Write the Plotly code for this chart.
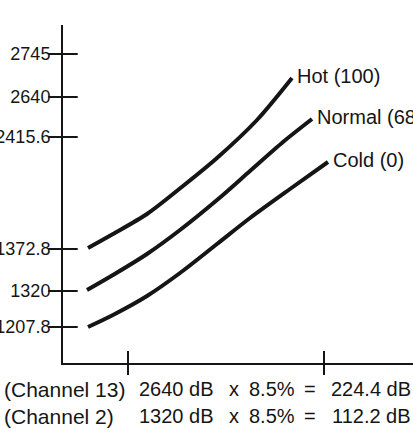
import plotly.graph_objects as go

# Schematic chart: x = horizontal distance along the axis, y = height above the axis
hot_x = [25, 50, 84, 120, 154, 194, 229]
hot_y = [115, 129, 149, 177, 205, 243, 285]

normal_x = [24, 50, 84, 117, 154, 187, 220, 249]
normal_y = [73, 88, 109, 133, 163, 192, 221, 244]

cold_x = [25, 50, 84, 117, 154, 187, 227, 265]
cold_y = [36, 48, 67, 90, 119, 145, 174, 201]

curve_labels = ["Hot (100)", "Normal (68)", "Cold (0)"]

y_tick_vals = [309, 266, 226, 114, 72, 36]
y_tick_text = ["2745", "2640", "2415.6", "1372.8", "1320", "1207.8"]

x_tick_vals = [65, 261]

channel_names = ["(Channel 13)", "(Channel 2)"]
channel_levels = ["2640 dB", "1320 dB"]
channel_percent = ["8.5%", "8.5%"]
channel_results = ["224.4 dB", "112.2 dB"]

INK = "#151515"
FONT = "Liberation Sans, Arial, sans-serif"

fig = go.Figure()

for xs, ys in [(hot_x, hot_y), (normal_x, normal_y), (cold_x, cold_y)]:
    fig.add_trace(go.Scatter(
        x=xs, y=ys, mode="lines",
        line=dict(color=INK, width=4, shape="spline", smoothing=0.8),
        hoverinfo="skip",
    ))

# tick marks that cross the axes
fig.add_trace(go.Scatter(
    x=[0] * len(y_tick_vals), y=y_tick_vals, mode="markers",
    marker=dict(symbol="line-ew", size=21, line=dict(color=INK, width=2)),
    cliponaxis=False, hoverinfo="skip",
))
fig.add_trace(go.Scatter(
    x=x_tick_vals, y=[0] * len(x_tick_vals), mode="markers",
    marker=dict(symbol="line-ns", size=17, line=dict(color=INK, width=2)),
    cliponaxis=False, hoverinfo="skip",
))

# labels at the curve ends
for xs, ys, label in zip([hot_x, normal_x, cold_x], [hot_y, normal_y, cold_y], curve_labels):
    fig.add_annotation(
        x=xs[-1], y=ys[-1], text=label, showarrow=False,
        xanchor="left", yanchor="middle", xshift=3, yshift=2,
        font=dict(family=FONT, size=20, color=INK),
    )

# calculation lines under the axis (x given in axis units, placed via paper coords)
def note(x, shift_y, text, anchor, size=20):
    fig.add_annotation(
        x=x / 350, xref="paper", y=0, yref="paper", yshift=shift_y,
        text=text, showarrow=False, xanchor=anchor, yanchor="middle",
        font=dict(family=FONT, size=size, color=INK),
    )

for i in range(2):
    dy = -26 - 27 * i
    note(-61, dy, channel_names[i], "left", size=21)
    note(74, dy, channel_levels[i], "left")
    note(171, dy, "x", "center")
    note(209, dy, channel_percent[i], "center")
    note(247, dy, "=", "center")
    note(350, dy, channel_results[i], "right")

fig.update_xaxes(
    range=[0, 350], showgrid=False, zeroline=False,
    showline=True, linecolor=INK, linewidth=2,
    showticklabels=False, ticks="",
)
fig.update_yaxes(
    range=[0, 338], showgrid=False, zeroline=False, automargin=False,
    showline=True, linecolor=INK, linewidth=2,
    tickvals=y_tick_vals, ticktext=y_tick_text,
    ticks="outside", ticklen=7, tickwidth=2, tickcolor=INK,
    tickfont=dict(family=FONT, size=18, color=INK),
)

fig.update_layout(
    width=413, height=436,
    margin=dict(l=63, r=0, t=25, b=73),
    paper_bgcolor="white", plot_bgcolor="white",
    showlegend=False,
)

fig.write_html(
    "out.html",
    config={"displayModeBar": False},
    post_script="document.body.style.margin='0px';",
)
